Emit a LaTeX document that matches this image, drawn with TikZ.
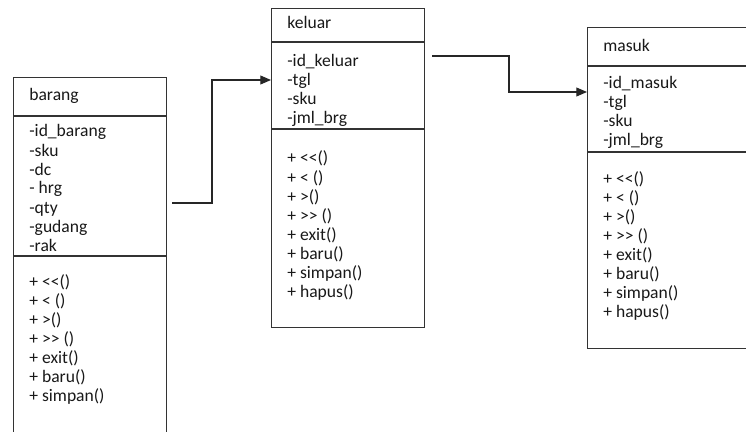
\documentclass[tikz,border=0pt]{standalone}
\usepackage{fontspec}
\setmainfont{Carlito}
\usetikzlibrary{arrows.meta,calc}
\tikzset{
  umlbox/.style={draw=black!80, line width=0.7pt, inner sep=0pt, anchor=north west},
  member/.style={anchor=base west, inner sep=0pt, font=\fontsize{10}{12}\selectfont, text=black!90},
  link/.style={draw=black!85, line width=0.6pt},
}
\begin{document}
\begin{tikzpicture}[x=0.02cm,y=-0.02cm]
\clip (0,0) rectangle (746,432);
\fill[white] (0,0) rectangle (746,432);
% boxes
\node[umlbox, minimum width=3.06cm, minimum height=7.3cm] (barang) at (13,77) {};
\node[umlbox, minimum width=3.06cm, minimum height=6.38cm] (keluar) at (271,8) {};
\node[umlbox, minimum width=3.7cm, minimum height=6.42cm] (masuk) at (587,27) {};
\draw[umlbox] (13,116) -- (166,116);
\draw[umlbox] (13,256) -- (166,256);
\draw[umlbox] (271,42) -- (424,42);
\draw[umlbox] (271,129) -- (424,129);
\draw[umlbox] (587,66) -- (760,66);
\draw[umlbox] (587,152) -- (760,152);
% barang
\node[member] (b-name) at (29,101) {barang};
\node[member] (b-a1) at (29,137) {-id\_barang};
\node[member] (b-a2) at (29,156) {-sku};
\node[member] (b-a3) at (29,175) {-dc};
\node[member] (b-a4) at (29,194) {- hrg};
\node[member] (b-a5) at (29,213) {-qty};
\node[member] (b-a6) at (29,232) {-gudang};
\node[member] (b-a7) at (29,251) {-rak};
\node[member] (b-m1) at (29,287) {+ <{}<()};
\node[member] (b-m2) at (29,306) {+ < ()};
\node[member] (b-m3) at (29,325) {+ >()};
\node[member] (b-m4) at (29,344) {+ >{}> ()};
\node[member] (b-m5) at (29,363) {+ exit()};
\node[member] (b-m6) at (29,382) {+ baru()};
\node[member] (b-m7) at (29,401) {+ simpan()};
% keluar
\node[member] (k-name) at (287,29) {keluar};
\node[member] (k-a1) at (287,67) {-id\_keluar};
\node[member] (k-a2) at (287,86) {-tgl};
\node[member] (k-a3) at (287,105) {-sku};
\node[member] (k-a4) at (287,124) {-jml\_brg};
\node[member] (k-m1) at (287,164) {+ <{}<()};
\node[member] (k-m2) at (287,183) {+ < ()};
\node[member] (k-m3) at (287,202) {+ >()};
\node[member] (k-m4) at (287,221) {+ >{}> ()};
\node[member] (k-m5) at (287,240) {+ exit()};
\node[member] (k-m6) at (287,259) {+ baru()};
\node[member] (k-m7) at (287,278) {+ simpan()};
\node[member] (k-m8) at (287,297) {+ hapus()};
% masuk
\node[member] (m-name) at (603,52) {masuk};
\node[member] (m-a1) at (603,89) {-id\_masuk};
\node[member] (m-a2) at (603,108) {-tgl};
\node[member] (m-a3) at (603,127) {-sku};
\node[member] (m-a4) at (603,146) {-jml\_brg};
\node[member] (m-m1) at (603,184) {+ <{}<()};
\node[member] (m-m2) at (603,203) {+ < ()};
\node[member] (m-m3) at (603,222) {+ >()};
\node[member] (m-m4) at (603,241) {+ >{}> ()};
\node[member] (m-m5) at (603,260) {+ exit()};
\node[member] (m-m6) at (603,279) {+ baru()};
\node[member] (m-m7) at (603,298) {+ simpan()};
\node[member] (m-m8) at (603,317) {+ hapus()};
% connectors
\coordinate (b-out) at (172,203);
\coordinate (k-in) at (271,80);
\coordinate (k-out) at (432,56);
\coordinate (m-in) at (587,92);
\draw[link,-{Triangle[length=6pt,width=5pt]}] (b-out) -- (212,203) |- (k-in);
\draw[link,-{Triangle[length=6pt,width=5pt]}] (k-out) -- (509,56) |- (m-in);
\end{tikzpicture}
\end{document}
